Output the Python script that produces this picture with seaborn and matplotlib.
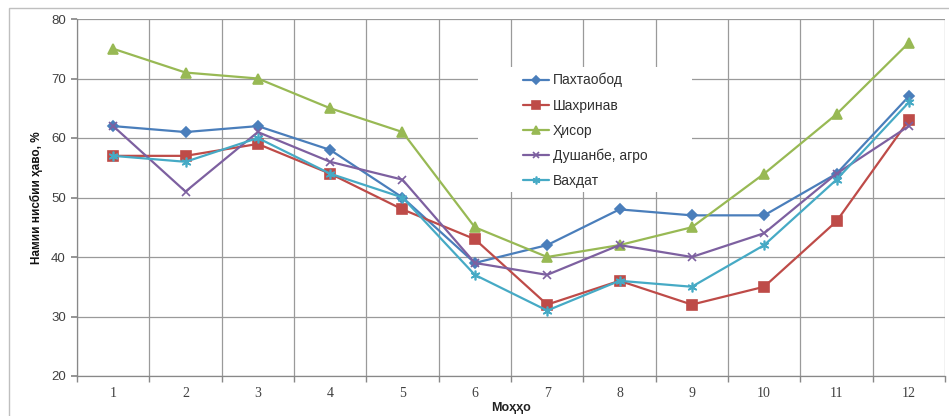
import matplotlib
matplotlib.use("Agg")
import matplotlib.pyplot as plt
import seaborn as sns
import pandas as pd
from matplotlib.patches import Rectangle
from matplotlib.ticker import FixedLocator

months = list(range(1, 13))
pakhtaobod = [62, 61, 62, 58, 50, 39, 42, 48, 47, 47, 54, 67]
shakhrinav = [57, 57, 59, 54, 48, 43, 32, 36, 32, 35, 46, 63]
hisor = [75, 71, 70, 65, 61, 45, 40, 42, 45, 54, 64, 76]
dushanbe = [62, 51, 61, 56, 53, 39, 37, 42, 40, 44, 54, 62]
vakhdat = [57, 56, 60, 54, 50, 37, 31, 36, 35, 42, 53, 66]

names = ["Пахтаобод", "Шахринав", "Ҳисор", "Душанбе, агро", "Вахдат"]
series = [pakhtaobod, shakhrinav, hisor, dushanbe, vakhdat]
colors = ["#4A7EBB", "#BE4B48", "#98B954", "#7D60A0", "#46AAC5"]
markers = ["D", "s", "^", "x", (6, 2, 0)]
msizes = [5, 7, 7, 6, 7]

sns.set_theme(style="white")
plt.rcParams['font.family'] = ['Liberation Sans', 'DejaVu Sans']

W, H = 949, 416
fig = plt.figure(figsize=(W / 100, H / 100), dpi=100)
ax = fig.add_axes([77/W, 1-376/H, (945-77)/W, (376-19)/H])

for name, vals, c, m, ms in zip(names, series, colors, markers, msizes):
    df = pd.DataFrame({"month": months, "val": vals})
    sns.lineplot(data=df, x="month", y="val", ax=ax, color=c, marker=m,
                 markersize=ms, markeredgecolor=c, markeredgewidth=1.2,
                 linewidth=1.6, label=name, legend=False)

ax.set_xlim(0.5, 12.5)
ax.set_ylim(20, 80)
ax.set_xticks(months)
ax.set_xticklabels([str(m) for m in months], family=['Liberation Serif', 'DejaVu Serif'])
ax.xaxis.set_minor_locator(FixedLocator([m + 0.5 for m in range(0, 13)]))
ax.set_yticks(range(20, 81, 10))
ax.grid(False)
ax.grid(True, which="minor", axis="x", color="#9a9a9a", linewidth=0.9)
ax.grid(True, which="major", axis="y", color="#9a9a9a", linewidth=0.9)
ax.tick_params(axis="x", which="major", length=0, labelsize=10, colors="#404040", pad=8)
ax.tick_params(axis="x", which="minor", length=4, color="#888888", bottom=True)
ax.tick_params(axis="y", which="major", length=4, color="#888888", left=True,
               labelsize=9.5, labelcolor="#404040", pad=4)
for s in ["top", "right"]:
    ax.spines[s].set_visible(False)
for s in ["left", "bottom"]:
    ax.spines[s].set_color("#888888")
    ax.spines[s].set_linewidth(0.9)

ax.set_xlabel("Моҳҳо", fontsize=9, fontweight="bold", color="#222222", labelpad=1)
ax.set_ylabel("Намии нисбии ҳаво, %", fontsize=8.5, fontweight="bold",
              color="#111111", labelpad=6)

# white legend background covering gridlines
ax.add_patch(Rectangle((478/W, 1-192/H), (692-478)/W, (192-67)/H,
                       transform=fig.transFigure, facecolor="white",
                       edgecolor="none", zorder=1.8))

handles, labels = ax.get_legend_handles_labels()
leg = fig.legend(handles, labels, loc="upper left",
                 bbox_to_anchor=(523/W, 1-73/H), frameon=False,
                 fontsize=10, labelspacing=0.8, handlelength=1.9,
                 handletextpad=0.25, borderpad=0.0, borderaxespad=0.0,
                 markerscale=0.8)
for t in leg.get_texts():
    t.set_color("#303030")

fig.patches.append(Rectangle((9/W, -0.01), 1.0, 1-8/H + 0.01,
                             transform=fig.transFigure, fill=False,
                             edgecolor="#bfbfbf", linewidth=1.0))

fig.savefig("out.png", dpi=100)
